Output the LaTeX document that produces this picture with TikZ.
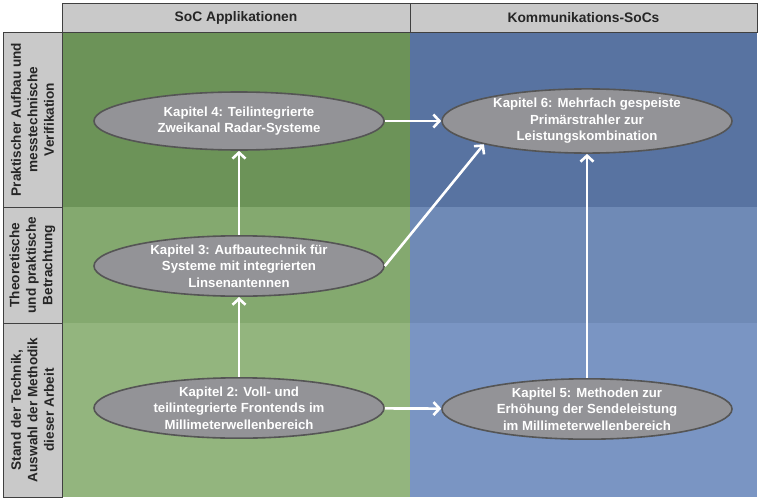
\documentclass[tikz,border=0pt]{standalone}
\usepackage{tikz, xcolor}
\usepackage{fontspec}
\setmainfont{Liberation Sans}
\usetikzlibrary{shapes,arrows,arrows.meta}

\definecolor{greentop}{HTML}{6C9358}
\definecolor{greenmid}{HTML}{84A96F}
\definecolor{greenbot}{HTML}{93B57E}
\definecolor{bluetop}{HTML}{5873A1}
\definecolor{bluemid}{HTML}{6F8AB6}
\definecolor{bluebot}{HTML}{7A95C3}
\definecolor{headgray}{HTML}{C9C9C9}
\definecolor{linegray}{HTML}{404040}
\definecolor{kapfill}{HTML}{939397}
\definecolor{kapline}{HTML}{555555}

\begin{document}
\begin{tikzpicture}[x=1pt, y=-1pt, font=\fontsize{13.2}{16.5}\selectfont\bfseries]
\tikzstyle{cellbg}=[rectangle, draw=none, inner sep=0pt]
\tikzstyle{headcell}=[rectangle, draw=linegray, line width=0.8pt, fill=headgray, inner sep=0pt, minimum height=29pt, text=black!85, font=\fontsize{13.8}{16.5}\selectfont\bfseries]
\tikzstyle{sidecell}=[rectangle, draw=linegray, line width=0.8pt, fill=headgray, inner sep=0pt, minimum height=59pt, rotate=90, align=center, text=black!85, font=\fontsize{13.6}{16.5}\selectfont\bfseries]
\tikzstyle{kapitel}=[ellipse, draw=kapline, line width=1.6pt, fill=kapfill, inner sep=0pt, minimum width=290pt, minimum height=58pt, align=center, text=white]
\tikzstyle{drawstyle}=[white, line width=2.6pt, -{Straight Barb[length=6pt,width=13pt]}]

\useasboundingbox (0,0) rectangle (759,500);

\node[cellbg, fill=greentop, minimum width=348pt, minimum height=175pt] (G1x1) at (236,119.5) {};
\node[cellbg, fill=greenmid, minimum width=348pt, minimum height=116pt] (G1x2) at (236,265) {};
\node[cellbg, fill=greenbot, minimum width=348pt, minimum height=174pt] (G1x3) at (236,410) {};
\node[cellbg, fill=bluetop, minimum width=347pt, minimum height=175pt] (G2x1) at (583.5,119.5) {};
\node[cellbg, fill=bluemid, minimum width=347pt, minimum height=116pt] (G2x2) at (583.5,265) {};
\node[cellbg, fill=bluebot, minimum width=347pt, minimum height=174pt] (G2x3) at (583.5,410) {};

\node[headcell, minimum width=348pt] (H1) at (236,17.5) {SoC Applikationen};
\node[headcell, minimum width=347pt] (H2) at (583.5,17.5) {Kommunikations-SoCs};

\node[sidecell, minimum width=175pt] (S1) at (32.5,119.5) {Praktischer Aufbau und\\messtechnische\\Verifikation};
\node[sidecell, minimum width=116pt] (S2) at (32.5,265) {Theoretische\\und praktische\\Betrachtung};
\node[sidecell, minimum width=174pt] (S3) at (32.5,410) {Stand der Technik,\\Auswahl der Methodik\\dieser Arbeit};

\node[kapitel] (K4) at (239,121) {Kapitel 4: Teilintegrierte\\Zweikanal Radar-Systeme};
\node[kapitel] (K6) at (587,121) {Kapitel 6: Mehrfach gespeiste\\Prim\"arstrahler zur\\Leistungskombination};
\node[kapitel] (K3) at (239,266) {Kapitel 3: Aufbautechnik f\"ur\\Systeme mit integrierten\\Linsenantennen};
\node[kapitel] (K2) at (239,408) {Kapitel 2: Voll- und\\teilintegrierte Frontends im\\Millimeterwellenbereich};
\node[kapitel] (K5) at (587,409) {Kapitel 5: Methoden zur\\Erh\"ohung der Sendeleistung\\im Millimeterwellenbereich};

\draw[drawstyle] (K2) -- (K3);
\draw[drawstyle] (K3) -- (K4);
\draw[drawstyle] (K4) -- (K6);
\draw[drawstyle] (K3.east) -- (K6.south west);
\draw[drawstyle] (K5) -- (K6);
\draw[drawstyle] (K2) -- (K5);
\end{tikzpicture}
\end{document}
